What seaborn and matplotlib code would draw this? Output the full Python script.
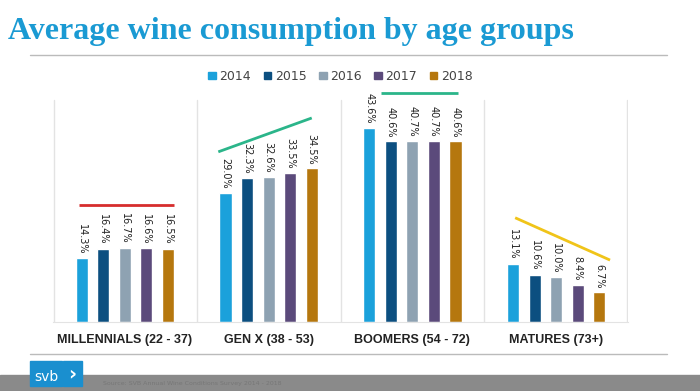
import numpy as np
import pandas as pd
import matplotlib.pyplot as plt
import matplotlib.patches as mpatches
import seaborn as sns

# ---- data ----
groups = ["MILLENNIALS (22 - 37)", "GEN X (38 - 53)", "BOOMERS (54 - 72)", "MATURES (73+)"]
years = ["2014", "2015", "2016", "2017", "2018"]
millennials = [14.3, 16.4, 16.7, 16.6, 16.5]
gen_x = [29.0, 32.3, 32.6, 33.5, 34.5]
boomers = [43.6, 40.6, 40.7, 40.7, 40.6]
matures = [13.1, 10.6, 10.0, 8.4, 6.7]

# trend marker lines drawn above each group (start / end height, in %)
trend_start = [26.3, 38.2, 51.5, 23.4]
trend_end = [26.3, 45.8, 51.5, 13.9]
trend_colors = ["#d62d2d", "#2bb58a", "#2bb58a", "#f0c419"]

year_colors = ["#1ba1db", "#0c4f80", "#8ea2b2", "#5b4a7b", "#b5770e"]
title_blue = "#1a9ad3"

values = [millennials, gen_x, boomers, matures]
df = pd.DataFrame(
    [(g, y, v) for g, row in zip(groups, values) for y, v in zip(years, row)],
    columns=["group", "year", "pct"],
)

sns.set_style("white")
plt.rcParams["font.family"] = ["DejaVu Sans"]

fig = plt.figure(figsize=(7, 3.91), dpi=100)
ax = fig.add_axes([53 / 700, 1 - 322 / 391, 575 / 700, 245 / 391])

sns.barplot(data=df, x="group", y="pct", hue="year", palette=year_colors,
            width=0.75, gap=0.44, saturation=1, ax=ax, legend=False)

# value labels, rotated (read top to bottom)
for cont in ax.containers:
    for bar in cont:
        h = bar.get_height()
        ax.text(bar.get_x() + bar.get_width() / 2, h + 0.9, f"{h:.1f}%",
                rotation=270, ha="center", va="bottom", fontsize=7,
                color="#222222")

# trend lines
x_off = [(-0.32, 0.34), (-0.35, 0.30), (-0.22, 0.32), (-0.285, 0.375)]
for i, (s, e, c) in enumerate(zip(trend_start, trend_end, trend_colors)):
    ax.plot([i + x_off[i][0], i + x_off[i][1]], [s, e], color=c, lw=2,
            solid_capstyle="butt")

ax.set_xlim(-0.5, 3.5)
ax.set_ylim(0, 55)
ax.set_xlabel("")
ax.set_ylabel("")
ax.set_yticks([])
ax.tick_params(axis="x", length=0, pad=9)
for lbl in ax.get_xticklabels():
    lbl.set_fontsize(9)
    lbl.set_fontweight("bold")
    lbl.set_color("#222222")
    lbl.set_fontfamily("Liberation Sans")
# light separators between the age groups
for b in [-0.49, 0.5, 1.5, 2.5, 3.49]:
    ax.axvline(b, ymax=0.906, color="#e3e3e3", lw=1, zorder=0)
for side in ["top", "right", "left"]:
    ax.spines[side].set_visible(False)
ax.spines["bottom"].set_color("#e3e3e3")

# legend
handles = [mpatches.Patch(color=c, label=y) for c, y in zip(year_colors, years)]
leg = ax.legend(handles=handles, loc="upper center", bbox_to_anchor=(0.5, 1.075),
                ncol=5, frameon=False, fontsize=9, handlelength=0.6,
                handleheight=0.6, handletextpad=0.3, columnspacing=1.0)
for t in leg.get_texts():
    t.set_color("#444444")

# title and rules
fig.text(8 / 700, 1 - 31 / 391, "Average wine consumption by age groups",
         fontsize=23, fontweight="bold", color=title_blue, va="center",
         family="Liberation Serif")
fig.add_artist(plt.Line2D([30 / 700, 667 / 700], [1 - 55 / 391] * 2,
                          color="#bbbbbb", lw=1))
fig.add_artist(plt.Line2D([30 / 700, 667 / 700], [1 - 354 / 391] * 2,
                          color="#bbbbbb", lw=1))

# footer strip and logo
fig.add_artist(mpatches.Rectangle((0, 0), 1, 16 / 391, color="#8a8a8a",
                                  transform=fig.transFigure, zorder=1))
fig.add_artist(mpatches.Rectangle((30 / 700, 5 / 391), 32 / 700, 25 / 391,
                                  color="#1a8fcf", transform=fig.transFigure, zorder=2))
fig.add_artist(mpatches.Rectangle((63 / 700, 5 / 391), 19 / 700, 25 / 391,
                                  color="#1a8fcf", transform=fig.transFigure, zorder=2))
fig.text(46 / 700, 14 / 391, "svb", color="white", fontsize=10, ha="center",
         va="center", zorder=3)
fig.text(72 / 700, 17 / 391, "\u203a", color="white", fontsize=14, ha="center",
         va="center", zorder=3, fontweight="bold")
fig.text(103 / 700, 8 / 391, "Source: SVB Annual Wine Conditions Survey 2014 - 2018",
         color="#777777", fontsize=4.5, va="center", zorder=3)

fig.savefig("out.png", dpi=100)
